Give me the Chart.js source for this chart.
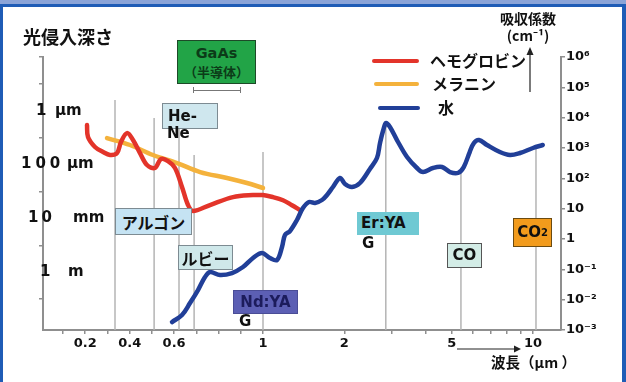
<!DOCTYPE html>
<html>
<head>
<meta charset="utf-8">
<script src="https://cdn.jsdelivr.net/npm/chart.js@4.4.1/dist/chart.umd.min.js"></script>
<style>
html,body{margin:0;padding:0;background:#fff;}
#wrap{position:relative;width:626px;height:382px;overflow:hidden;background:#fff;
  font-family:"Noto Sans CJK JP","Noto Sans",sans-serif;font-weight:700;color:#111;}
#c{position:absolute;left:0;top:0;}
.t{position:absolute;white-space:nowrap;line-height:1;}
.lat{font-family:"DejaVu Sans",sans-serif;}
.box{position:absolute;box-sizing:border-box;border:1px solid #7d8b92;display:flex;align-items:center;justify-content:center;white-space:nowrap;line-height:1;}
.key{position:absolute;height:4px;border-radius:2px;}
.frame{position:absolute;background:#1f5cb6;}
svg{position:absolute;left:0;top:0;}
</style>
</head>
<body>
<div id="wrap">
  <canvas id="c" width="626" height="382"></canvas>

  <!-- frame -->
  <div class="frame" style="left:0;top:0;width:626px;height:4px;background:#8ba4d8;"></div>
  <div class="frame" style="left:0;top:4px;width:626px;height:3px;"></div>
  <div class="frame" style="left:0;top:4px;width:3px;height:378px;"></div>
  <div class="frame" style="left:622px;top:4px;width:4px;height:378px;"></div>

  <!-- titles -->
  <div class="t" style="left:23px;top:27px;font-size:18px;">光侵入深さ</div>
  <div class="t" style="left:494px;top:11px;width:68px;text-align:center;font-size:14px;">吸収係数</div>
  <div class="t" style="left:494px;top:28px;width:68px;text-align:center;font-size:14px;">(cm⁻¹)</div>
  <div class="t" style="left:491px;top:355px;font-size:14.5px;">波長（µm ）</div>

  <!-- legend -->
  <div class="key" style="left:372px;top:59px;width:47px;background:#e3342a;"></div>
  <div class="t" style="left:430px;top:52px;font-size:16px;">ヘモグロビン</div>
  <div class="key" style="left:374px;top:82px;width:45px;background:#f4b23c;"></div>
  <div class="t" style="left:432px;top:75px;font-size:16px;">メラニン</div>
  <div class="key" style="left:378px;top:106px;width:42px;background:#213f98;"></div>
  <div class="t" style="left:438px;top:99px;font-size:16px;">水</div>

  <!-- laser labels -->
  <div class="box" style="left:177px;top:40px;width:79px;height:44px;background:#22a447;border-color:#1d4a28;flex-direction:column;color:#0c3b18;">
    <div class="lat" style="font-size:14.5px;margin-bottom:5px;">GaAs</div>
    <div style="font-size:13px;">（半導体）</div>
  </div>
  <div style="position:absolute;left:193px;top:87px;width:48px;height:6px;box-sizing:border-box;border-left:1px solid #777;border-right:1px solid #777;"></div>
  <div style="position:absolute;left:193px;top:90px;width:48px;height:1px;background:#777;"></div>

  <div class="box lat" style="left:162px;top:103px;width:56px;height:26px;background:#cfe7ee;justify-content:flex-start;padding-left:5px;font-size:15px;">He-</div>
  <div class="t lat" style="left:167px;top:126px;font-size:15px;">Ne</div>

  <div class="box" style="left:115px;top:208px;width:77px;height:27px;background:#c5e3f3;font-size:16px;">アルゴン</div>
  <div class="box" style="left:178px;top:245px;width:55px;height:25px;background:#cfe8ea;font-size:16px;">ルビー</div>

  <div class="box lat" style="left:233px;top:290px;width:65px;height:24px;background:#5c5fb4;border-color:#4a4d96;color:#1c1c5c;font-size:15px;">Nd:YA</div>
  <div class="t lat" style="left:239px;top:314px;font-size:15px;">G</div>

  <div class="box lat" style="left:357px;top:212px;width:62px;height:23px;background:#6fc9d3;border-color:#6fc9d3;justify-content:flex-start;padding-left:3px;font-size:15px;">Er:YA</div>
  <div class="t lat" style="left:362px;top:236px;font-size:15px;">G</div>

  <div class="box lat" style="left:447px;top:243px;width:35px;height:25px;background:#d3ece6;border-color:#555;font-size:15px;">CO</div>
  <div class="box lat" style="left:513px;top:218px;width:39px;height:29px;background:#f29b1c;border-color:#6b4a10;font-size:15px;">CO<sub style="font-size:10px;vertical-align:-3px;">2</sub></div>

  <!-- axis direction arrows -->
  <svg width="626" height="382">
    <line x1="530" y1="92" x2="530" y2="53" stroke="#222" stroke-width="1.2"/>
    <polygon points="526.5,55 533.5,55 530,47" fill="#222"/>
    <line x1="457" y1="349" x2="516" y2="349" stroke="#222" stroke-width="1.2"/>
    <polygon points="514,345.5 514,352.5 521,349" fill="#222"/>
  </svg>
</div>

<script>
// Absorption spectra (wavelength in µm, absorption coefficient in cm^-1)
const hemoWavelength = [0.208, 0.2125, 0.244, 0.28, 0.3115, 0.343, 0.361, 0.388, 0.415, 0.4465, 0.478, 0.514, 0.541, 0.5725, 0.604, 0.6355, 0.6625, 0.685, 0.7615, 0.865, 0.955, 1.0, 1.089, 1.186, 1.28, 1.371];
const hemoAbsorption = [5700, 2300, 1080, 740, 590, 680, 1580, 3100, 1840, 680, 275, 220, 435, 370, 220, 52, 13.2, 8.4, 13.2, 24, 28, 28, 24, 19, 13, 9];

const melaninWavelength = [0.298, 0.4015, 0.505, 0.613, 0.717, 0.838, 0.928, 1.0];
const melaninAbsorption = [2130, 1255, 588, 320, 161, 103, 70, 48];

const waterWavelength = [0.5905, 0.6355, 0.6715, 0.7075, 0.739, 0.7615, 0.8065, 0.8605, 0.91, 0.955, 0.9955, 1.061, 1.127, 1.176, 1.206, 1.259, 1.336, 1.406, 1.48, 1.558, 1.654, 1.726, 1.816, 1.928, 2.012, 2.136, 2.286, 2.489, 2.643, 2.713, 2.783, 2.855, 2.953, 3.135, 3.416, 3.718, 3.915, 4.262, 4.604, 4.926, 5.27, 5.54, 5.83, 6.04, 6.31, 6.76, 7.54, 8.22, 8.95, 10.0, 10.87];
const waterAbsorption = [0.00183, 0.00312, 0.00774, 0.0208, 0.0558, 0.0815, 0.0649, 0.0755, 0.119, 0.236, 0.345, 0.236, 0.203, 0.544, 1.35, 1.83, 4.23, 10.5, 16.6, 15.3, 19.3, 28.2, 51.8, 103, 65, 51.8, 70, 203, 468, 1460, 3630, 6670, 4920, 1830, 505, 219, 161, 219, 236, 161, 150, 236, 738, 1460, 1830, 1255, 738, 588, 684, 1000, 1255];

// Laser emission lines: wavelength and the absorption level where each guide line stops
const laserWavelength = [0.334, 0.51, 0.622, 0.69, 1.0, 2.85, 5.41, 10.26];
const laserTopAbs = [38000, 9700, 30000, 590, 740, 6700, 160, 1080];

// Wavelength axis ticks
const xTickValues = [0.1, 0.2, 0.3, 0.4, 0.5, 0.6, 0.7, 0.8, 0.9, 1, 2, 3, 4, 5, 6, 7, 8, 9, 10];
const xTickLabels = {0.2: '0.2', 0.4: '0.4', 0.6: '0.6', 1: '1', 2: '2', 5: '5', 10: '10'};

// Absorption coefficient axis ticks
const absTickValues = [1e-3, 1e-2, 1e-1, 1, 10, 1e2, 1e3, 1e4, 1e5, 1e6];
const absTickLabels = ['10⁻³', '10⁻²', '10⁻¹', '1', '10', '10²', '10³', '10⁴', '10⁵', '10⁶'];

// Penetration depth axis (cm)
const depthTickValues = [1e-6, 1e-5, 1e-3, 1e-1, 10, 1e3];
const depthLabelValues = [1e-4, 1e-2, 1, 100];
const depthLabelNumbers = ['1', '100', '10', '1'];
const depthLabelUnits = ['µm', 'µm', 'mm', 'm'];

// Wavelength scale: linear below 1 µm, logarithmic above
class HybridScale extends Chart.LinearScale {
  static id = 'hybrid';
  static defaults = {};
  share() { const s = this.options.linearShare; return typeof s === 'number' ? s : 0.4; }
  toDecimal(v) {
    const s = this.share(), lo = this.min, hi = this.max;
    if (v <= 1) return (v - lo) / (1 - lo) * s;
    return s + (1 - s) * Math.log10(v) / Math.log10(hi);
  }
  getPixelForValue(v) {
    if (v === null || v === undefined) return NaN;
    return this.getPixelForDecimal(this.toDecimal(v));
  }
  getValueForPixel(p) {
    const d = this.getDecimalForPixel(p), s = this.share(), lo = this.min, hi = this.max;
    if (d <= s) return lo + d / s * (1 - lo);
    return Math.pow(10, (d - s) / (1 - s) * Math.log10(hi));
  }
}
Chart.register(HybridScale);

const pts = (xs, ys) => xs.map((x, i) => ({x: x, y: ys[i]}));
const axisGray = '#8f8f8f';
const numFont = {family: "'DejaVu Sans', sans-serif", weight: 'bold', size: 13};

const curve = (label, xs, ys, color) => ({
  label: label, data: pts(xs, ys), showLine: true, borderColor: color, backgroundColor: color,
  borderWidth: 4.5, pointRadius: 0, tension: 0.35, borderCapStyle: 'round', borderJoinStyle: 'round'
});

const datasets = [
  curve('水', waterWavelength, waterAbsorption, '#213f98'),
  curve('ヘモグロビン', hemoWavelength, hemoAbsorption, '#e3342a'),
  curve('メラニン', melaninWavelength, melaninAbsorption, '#f4b23c')
];
laserWavelength.forEach((w, i) => {
  datasets.push({
    label: 'laser' + i, data: [{x: w, y: 1e-3}, {x: w, y: laserTopAbs[i]}], showLine: true,
    borderColor: '#b4b4b4', borderWidth: 1.5, pointRadius: 0, tension: 0
  });
});

// Penetration depth labels, placed on the depth axis
const depthLabelPlugin = {
  id: 'depthLabels',
  afterDraw(chart, args, opts) {
    const s = chart.scales.yd, ctx = chart.ctx;
    ctx.save();
    ctx.fillStyle = '#111';
    ctx.font = "bold 15px 'DejaVu Sans', sans-serif";
    ctx.textBaseline = 'middle';
    ctx.textAlign = 'left';
    depthLabelValues.forEach((v, i) => {
      const y = s.getPixelForValue(v);
      ctx.letterSpacing = opts.numSpacing[i] + 'px';
      ctx.fillText(depthLabelNumbers[i], opts.numX[i], y);
      ctx.letterSpacing = '0px';
      ctx.fillText(depthLabelUnits[i], opts.unitX[i], y);
    });
    ctx.restore();
  }
};

new Chart(document.getElementById('c'), {
  type: 'scatter',
  data: {datasets: datasets},
  options: {
    responsive: false,
    animation: false,
    events: [],
    layout: {padding: {top: 57, left: 0, right: 0, bottom: 0}},
    plugins: {
      legend: {display: false},
      tooltip: {enabled: false},
      depthLabels: {numX: [36, 21, 28, 40], numSpacing: [0, 4, 3, 0], unitX: [55, 67, 73, 68]}
    },
    scales: {
      x: {
        type: 'hybrid', position: 'bottom', min: 0.01, max: 12.7, bounds: 'data',
        linearShare: 220 / 518,
        afterBuildTicks: s => { s.ticks = xTickValues.map(v => ({value: v})); },
        afterFit: s => { s.height = 52; },
        grid: {drawOnChartArea: false, tickLength: 4, color: axisGray, lineWidth: 1.5},
        border: {color: axisGray, width: 2},
        ticks: {
          autoSkip: false, maxRotation: 0, minRotation: 0, padding: 2, color: '#111', font: numFont,
          callback: v => xTickLabels[v] || ''
        }
      },
      y: {
        type: 'logarithmic', position: 'right', min: 1e-3, max: 1e6, bounds: 'data',
        afterBuildTicks: s => { s.ticks = absTickValues.map(v => ({value: v})); },
        afterFit: s => { s.width = 65; },
        grid: {drawOnChartArea: false, tickLength: 4, color: axisGray, lineWidth: 1.5},
        border: {color: axisGray, width: 2},
        ticks: {
          padding: 1, color: '#111', font: numFont,
          callback: v => {
            const i = absTickValues.findIndex(t => Math.abs(Math.log10(t) - Math.log10(v)) < 1e-6);
            return i >= 0 ? absTickLabels[i] : '';
          }
        }
      },
      yd: {
        type: 'logarithmic', position: 'left', reverse: true, min: 1e-6, max: Math.pow(10, 4.15), bounds: 'data',
        afterBuildTicks: s => { s.ticks = depthTickValues.map(v => ({value: v})); },
        afterFit: s => { s.width = 43; },
        grid: {drawOnChartArea: false, tickLength: 4, color: axisGray, lineWidth: 1.5},
        border: {color: axisGray, width: 2},
        ticks: {padding: 0, font: numFont, callback: () => ''}
      }
    }
  },
  plugins: [depthLabelPlugin]
});
</script>
</body>
</html>
